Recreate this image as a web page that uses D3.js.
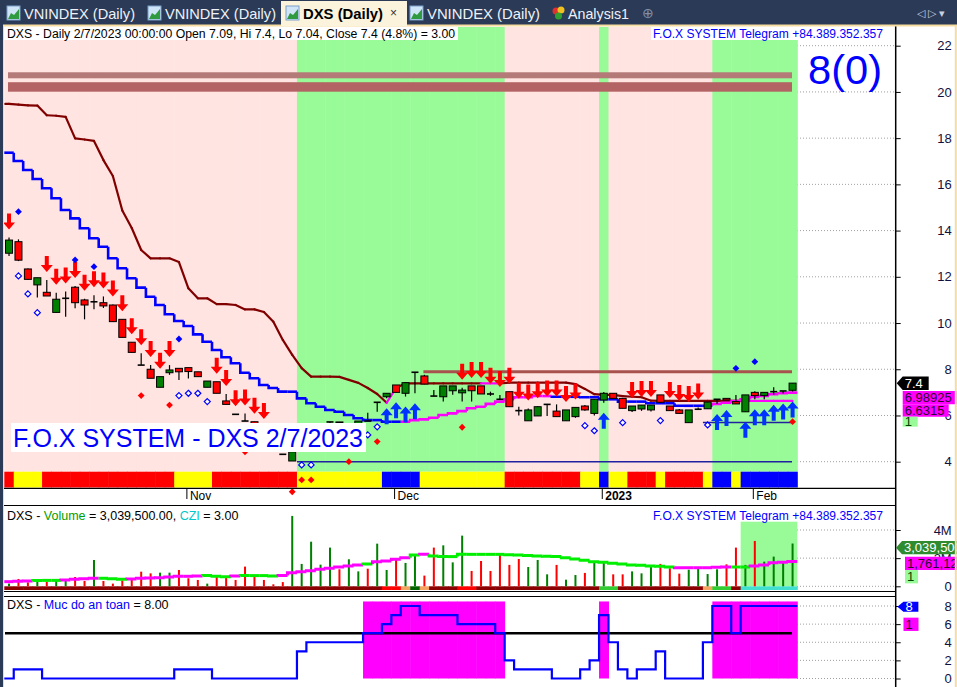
<!DOCTYPE html>
<html><head><meta charset="utf-8">
<script src="https://cdn.jsdelivr.net/npm/d3@7"></script>
<style>body{margin:0;background:#fff;overflow:hidden}svg{display:block;font-family:"Liberation Sans",Arial,sans-serif}</style>
</head><body><svg id="c" width="957" height="687"></svg>
<script>
// ---------------- DATA ----------------
const openP  = [13.02,13.52,12.34,11.65,11.33,10.46,11.07,11.55,11.0,10.92, 10.88,10.78,10.16,9.17,8.18,8.0,7.22,7.85,8.04,8.07, 7.89,7.22,7.46,6.63,6.05,5.76,5.73,5.45,4.9,4.32, 4.03,4.6,5.0,5.3,5.72,5.72,5.5,5.55,5.76,6.57, 6.81,7.32,6.96,7.87,7.71,6.84,6.81,7.07,6.98,7.28, 7.28,6.93,6.7,7.03,6.21,5.77,5.98,6.48,6.19,5.77, 5.95,6.41,6.09,6.67,6.96,6.74,6.21,6.28,6.24,6.89, 6.41,6.24,5.69,6.27,6.29,6.7,6.74,6.6,6.16,7.0, 6.86,7.03,7.06,7.09];
const highP  = [13.7,13.62,12.36,11.96,11.86,11.31,11.36,11.6,11.05,11.2, 11.15,10.8,10.16,9.17,8.69,8.18,7.68,8.18,8.04,8.07, 7.89,7.49,7.46,6.93,6.05,6.09,5.73,5.5,4.95,4.32, 4.43,4.74,5.07,5.4,5.72,5.72,5.62,5.76,6.12,6.57, 6.96,7.32,7.42,7.87,7.76,7.1,7.28,7.28,7.2,7.28, 7.28,7.03,6.89,7.03,6.38,6.3,6.4,6.48,6.48,6.24, 6.35,6.45,6.7,7.02,6.96,6.76,6.41,6.45,6.45,6.89, 6.41,6.28,6.24,6.35,6.58,6.7,6.74,6.89,6.89,7.05, 7.0,7.22,7.06,7.4];
const lowP   = [12.9,12.68,11.87,11.11,11.17,10.46,10.27,10.64,10.16,10.6, 10.65,10.06,9.38,8.73,8.18,7.61,7.22,7.76,7.54,7.6, 7.68,7.22,6.96,6.48,6.05,5.76,5.59,4.98,4.55,4.32, 4.03,4.55,4.85,5.2,5.5,5.66,5.35,5.5,5.76,6.16, 6.75,7.0,6.82,6.96,7.36,6.84,6.6,6.9,6.6,6.6, 6.93,6.85,6.7,6.38,6.0,5.77,5.98,5.98,5.95,5.77, 5.9,6.2,6.0,6.55,6.74,6.31,6.15,6.2,6.17,6.57, 6.21,6.09,5.69,6.25,6.29,6.5,6.67,6.5,6.16,6.7, 6.7,6.9,6.95,7.04];
const closeP = [13.59,12.72,11.89,11.96,11.17,11.03,11.07,10.88,10.78,10.92, 10.74,10.06,9.38,8.73,8.18,7.61,7.68,7.97,7.89,7.9, 7.68,7.49,6.96,6.48,6.05,5.76,5.59,5.0,4.6,4.32, 4.43,4.74,5.07,5.4,5.72,5.68,5.6,5.76,5.76,6.57, 6.96,7.0,7.42,7.87,7.36,6.84,7.28,7.28,7.1,7.07, 6.93,6.93,6.7,6.38,6.21,6.24,6.38,6.48,5.95,6.24, 6.35,6.24,6.7,6.96,6.74,6.31,6.41,6.45,6.45,6.57, 6.21,6.09,6.24,6.27,6.58,6.7,6.67,6.5,6.89,6.86, 7.0,7.03,7.06,7.4];
// volume in millions
const volumeM = [0.19,0.52,0.28,0.47,0.33,0.52,0.42,0.66,0.38,1.87, 0.38,0.19,0.42,0.45,1.04,0.92,0.97,0.97,1.16,0.57, 0.45,0.19,0.73,0.61,0.45,1.4,0.66,0.45,0.14,0.3, 5.0,1.59,3.17,1.54,2.75,1.21,1.92,1.06,1.25,3.03, 1.16,1.94,1.66,2.27,0.76,2.75,2.91,1.7,3.6,1.09, 1.8,1.09,2.27,1.52,1.94,1.37,1.87,0.85,1.52,0.47, 0.8,0.95,1.8,1.78,0.85,0.85,1.06,0.92,1.37,1.59, 1.28,0.9,1.18,1.35,0.87,1.21,1.56,2.75,1.52,3.22, 1.75,2.11,1.75,3.04];
const volumeMA = [0.33,0.35,0.38,0.42,0.42,0.42,0.45,0.5,0.54,0.57, 0.57,0.54,0.5,0.52,0.57,0.59,0.61,0.66,0.71,0.71, 0.73,0.76,0.71,0.68,0.73,0.76,0.76,0.76,0.73,0.76, 0.97,1.04,1.11,1.21,1.28,1.37,1.45,1.51,1.59,1.75, 1.8,1.92,2.03,2.23,2.27,2.15,2.11,2.11,2.27,2.27, 2.27,2.27,2.27,2.25,2.23,2.18,2.15,2.13,2.11,2.03, 1.94,1.85,1.75,1.7,1.63,1.59,1.51,1.49,1.45,1.42, 1.37,1.32,1.32,1.32,1.32,1.35,1.37,1.37,1.37,1.45, 1.51,1.67,1.70,1.76];
// runs: [state, number of bars]
const volumeMARuns = [["m",3],["g",3],["m",4],["g",3],["m",8],["g",3],["m",1],["g",4],["m",9],["g",1],["m",4],["g",1],["m",1],["g",26],["m",6],["g",2],["m",5]];
const volumeStripRuns = [["D",40],["R",2],["O",1],["G",1],["O",1],["D",3],["R",2],["D",13],["L",2],["D",9],["O",1],["L",2],["D",1],["C",6]];
// trend lines (price units)
const lineA = [19.48,19.45,19.42,19.41,18.99,18.97,18.92,17.99,17.94,17.88, 17.05,16.36,14.87,14.11,13.16,12.80,12.80,12.80,12.64,11.50, 11.07,11.07,10.82,10.82,10.78,10.59,10.59,10.48,10.06,9.27, 8.62,8.05,7.68,7.68,7.68,7.67,7.54,7.41,7.19,6.93, 6.55,7.19,7.39,7.39,7.39,7.39,7.39,7.39,7.39,7.39, 7.39,7.39,7.39,7.42,7.42,7.42,7.42,7.42,7.42,7.42, 7.36,7.15,6.92,6.89,6.89,6.84,6.81,6.79,6.64,6.63, 6.63,6.63,6.63,6.63,6.63,6.63,6.63,6.63,6.63,6.63, 6.63,6.63,6.63,6.6315];
const lineAMagenta = [[41,41],[51,52],[79,83]];
const lineB = [17.37,17.01,16.62,16.23,15.83,15.40,14.89,14.53,14.10,13.67, 13.30,12.80,12.37,11.94,11.53,11.14,10.78,10.38,10.09,9.87, 9.51,9.19,8.83,8.52,8.26,7.85,7.61,7.32,7.19,7.03, 7.03,6.74,6.53,6.38,6.24,6.16,6.02,5.88,5.80,5.80, 5.73,5.73,5.73,5.80,5.83,5.90,6.02,6.09,6.19,6.31, 6.38,6.50,6.60,6.70,6.79,6.79,6.84,6.84,6.81,6.81, 6.81,6.79,6.79,6.70,6.70,6.60,6.60,6.60,6.53,6.53, 6.53,6.42,6.42,6.42,6.42,6.50,6.55,6.62,6.70,6.80, 6.85,6.92,6.96,6.98925];
const lineBMagenta = [[42,57],[75,83]];
// background regimes (green ranges, others pink)
const greenRanges = [[31,52],[63,63],[75,83]];
const trendRuns = [["R",1],["Y",3],["R",14],["Y",4],["R",9],["Y",9],["B",4],["Y",9],["R",8],["Y",2],["B",1],["Y",2],["R",3],["Y",1],["R",4],["Y",1],["B",2],["Y",1],["B",6]];
// safety level (bottom pane)
const safety = [0,1,1,1,0,0,0,0,0,0, 0,0,0,0,0,0,0,0,1,1, 1,1,0,0,0,0,0,0,0,0, 0,3,4,4,4,4,4,4,5,5, 6,7,8,8,7,7,7,7,6,6, 6,6,5,2,1,1,1,1,0,0, 0,1,2,7,4,1,0,1,1,3, 0,0,0,0,4,8,8,5,8,8, 8,8,8,8];
const safetyThreshold = 5;
// signals
const sellBars = [0,4,5,6,7,8,9,10,11,12,13,14,15,16,17,22,23,24,25,26,27,48,49,50,51,52,53,54,55,56,57,58,59,60,66,67,68,70,71,72,73];
const buyBars  = [40,41,42,43,63,75,76,78,79,80,81,82,83];
const blueDiamondBars = [1,7,9,18,77,79];
const blueDiamondVals = [14.82,12.73,12.44,9.31,8.04,8.33];
const hollowBars = [1,2,3,18,19,20,21,31,32,38,39,61,62,65,69,74];
const hollowVals = [12.04,11.26,10.45,6.86,6.96,6.96,6.60,3.86,3.86,5.16,5.51,5.56,5.34,5.69,5.78,5.59];
const redDiamondBars = [14,17,25,30,31,32,36,39,48,83];
const redDiamondVals = [6.86,6.45,4.43,2.70,3.21,3.21,4.0,4.87,5.49,5.73];
// horizontal levels
const resistBands = [[20.59,20.85],[20.01,20.42]];
const resistLevel = 7.89, resistFrom = 44;
const supportLevels = [[4.0,31],[5.7,74]];
// axis / labels
const priceTicks = [4,6,8,10,12,14,16,18,20,22];
const volTicks = [0,2,4], volTickLabels = ["0","2M","4M"];
const safetyTicks = [0,2,4,6,8];
const monthBars = [19,41,63,79], monthLabels = ["Nov","Dec","2023","Feb"], monthBold=[false,false,true,false];
const tabs = ["VNINDEX (Daily)","VNINDEX (Daily)","DXS (Daily)","VNINDEX (Daily)","Analysis1"];
const headerText = "DXS - Daily 2/7/2023 00:00:00 Open 7.09, Hi 7.4, Lo 7.04, Close 7.4 (4.8%)  = 3.00";
const brandText = "F.O.X SYSTEM Telegram +84.389.352.357";
const bigText = "8(0)";
const watermark = "F.O.X SYSTEM - DXS 2/7/2023";

// ---------------- HELPERS ----------------
const N = closeP.length;
const expandRuns = runs => runs.flatMap(([s,n]) => Array(n).fill(s));
const inRanges = (ranges, i) => ranges.some(([a,b]) => i>=a && i<=b);
const trendBand = expandRuns(trendRuns);
const volumeStrip = expandRuns(volumeStripRuns);
const volumeMAColor = expandRuns(volumeMARuns);

// ---------------- DRAW ----------------
const svg = d3.select("#c");
const W = 957, H = 687;
const BLUE="#0000ff", MAG="#ff00ff", PINK="#ffe4e1", LGREEN="#98fb98";
const x = d3.scaleBand().domain(d3.range(N)).range([4.3, 797.3]);
const bw = x.bandwidth();
const cx = i => x(i) + bw/2;
const y = d3.scaleLinear().domain([4,22]).range([461.7,45.7]);
const yv = d3.scaleLinear().domain([0,4]).range([586.3,530]);
const ys = d3.scaleLinear().domain([0,8]).range([678.5,606]);
const AX = 895.7;

svg.append("rect").attr("width",W).attr("height",H).attr("fill","#fff");

// grid (only visible to the right of the data)
const gridG = svg.append("g").attr("stroke","#a0a0a0").attr("stroke-dasharray","1,2");
priceTicks.forEach(t=>gridG.append("line").attr("x1",797).attr("x2",AX).attr("y1",y(t)).attr("y2",y(t)));
volTicks.forEach(t=>gridG.append("line").attr("x1",797).attr("x2",AX).attr("y1",yv(t)).attr("y2",yv(t)));
safetyTicks.forEach(t=>gridG.append("line").attr("x1",797).attr("x2",AX).attr("y1",ys(t)).attr("y2",ys(t)));

// ---- main pane backgrounds
const mainTop = 27, bandTop = 471.7, bandBot = 487.5;
svg.append("g").selectAll("rect").data(d3.range(N)).join("rect")
  .attr("x",i=>x(i)).attr("width",bw+0.5).attr("y",mainTop).attr("height",bandTop-mainTop)
  .attr("fill",i=>inRanges(greenRanges,i)?LGREEN:PINK);
const bandCol = {R:"#ff0000",Y:"#ffff00",B:"#0000ff"};
svg.append("g").selectAll("rect").data(d3.range(N)).join("rect")
  .attr("x",i=>x(i)).attr("width",bw+0.5).attr("y",bandTop).attr("height",bandBot-bandTop)
  .attr("fill",i=>bandCol[trendBand[i]]);

// resistance bands
svg.append("rect").attr("x",8).attr("width",792-8).attr("y",y(resistBands[0][1])).attr("height",y(resistBands[0][0])-y(resistBands[0][1])).attr("fill","#b37a78");
svg.append("rect").attr("x",8).attr("width",792-8).attr("y",y(resistBands[1][1])).attr("height",y(resistBands[1][0])-y(resistBands[1][1])).attr("fill","#b36363");
// level lines
svg.append("line").attr("x1",cx(resistFrom)-1).attr("x2",792).attr("y1",y(resistLevel)).attr("y2",y(resistLevel)).attr("stroke","#a8524e").attr("stroke-width",3);
supportLevels.forEach(([v,from])=>svg.append("line").attr("x1",x(from)).attr("x2",792).attr("y1",y(v)).attr("y2",y(v)).attr("stroke","#2020a0").attr("stroke-width",1.5));

// line A (polyline through bar centres)
const gA = svg.append("g").attr("fill","none").attr("stroke-width",2.2).attr("stroke-linecap","round");
gA.append("line").attr("x1",x(0)+1).attr("y1",y(lineA[0])).attr("x2",cx(0)).attr("y2",y(lineA[0])).attr("stroke","#800000");
for(let i=1;i<N;i++){
  gA.append("line").attr("x1",cx(i-1)).attr("y1",y(lineA[i-1])).attr("x2",cx(i)).attr("y2",y(lineA[i]))
    .attr("stroke",inRanges(lineAMagenta,i)?MAG:"#800000");
}
// line B (step)
const gB = svg.append("g").attr("fill","none").attr("stroke-width",2.6);
for(let i=0;i<N;i++){
  const c = inRanges(lineBMagenta,i)?MAG:BLUE;
  const p = `M${x(i)},${i>0?y(lineB[i-1]):y(lineB[i])}V${y(lineB[i])}H${x(i)+bw}`;
  gB.append("path").attr("d",p).attr("stroke",c);
}

// candles
const cg = svg.append("g");
for(let i=0;i<N;i++){
  const o=openP[i],c=closeP[i],h=highP[i],l=lowP[i],xc=cx(i);
  cg.append("line").attr("x1",xc).attr("x2",xc).attr("y1",y(h)).attr("y2",y(l)).attr("stroke","#000").attr("stroke-width",1.2);
  if(o===c){
    cg.append("line").attr("x1",xc-3.5).attr("x2",xc+3.5).attr("y1",y(o)).attr("y2",y(o)).attr("stroke","#000").attr("stroke-width",1.6);
  } else {
    const top=y(Math.max(o,c)), bot=y(Math.min(o,c));
    cg.append("rect").attr("x",xc-3.5).attr("width",7).attr("y",top).attr("height",Math.max(1,bot-top))
      .attr("fill",c>o?"#008000":"#ff0000").attr("stroke","#000").attr("stroke-width",1);
  }
}

// signals
const downArrow = "M0,0L-6,-7L-2,-7L-2,-16L2,-16L2,-7L6,-7Z";
const upArrow   = "M0,0L-6,7L-2,7L-2,16L2,16L2,7L6,7Z";
svg.append("g").selectAll("path").data(sellBars).join("path")
  .attr("d",downArrow).attr("fill","#ff0000")
  .attr("transform",i=>`translate(${cx(i)},${y(highP[i])-8})`);
svg.append("g").selectAll("path").data(buyBars).join("path")
  .attr("d",upArrow).attr("fill","#0033ff")
  .attr("transform",i=>`translate(${cx(i)},${y(lowP[i])+10})`);
const dia = r => `M0,${-r}L${r},0L0,${r}L${-r},0Z`;
svg.append("g").selectAll("path").data(blueDiamondBars).join("path")
  .attr("d",dia(3.4)).attr("fill",BLUE)
  .attr("transform",(i,k)=>`translate(${cx(i)},${y(blueDiamondVals[k])})`);
svg.append("g").selectAll("path").data(hollowBars).join("path")
  .attr("d",dia(3)).attr("fill","#fff").attr("stroke",BLUE).attr("stroke-width",1.2)
  .attr("transform",(i,k)=>`translate(${cx(i)},${y(hollowVals[k])})`);
svg.append("g").selectAll("path").data(redDiamondBars).join("path")
  .attr("d",dia(3.4)).attr("fill","#ff0000")
  .attr("transform",(i,k)=>`translate(${cx(i)},${y(redDiamondVals[k])})`);

// header texts
svg.append("rect").attr("x",4).attr("y",27).attr("width",454).attr("height",13).attr("fill","#fff");
svg.append("text").attr("x",7).attr("y",37.5).attr("font-size",12.5).attr("textLength",448).attr("lengthAdjust","spacingAndGlyphs").attr("fill","#000").text(headerText);
svg.append("rect").attr("x",651).attr("y",27).attr("width",235).attr("height",13).attr("fill","#fff");
svg.append("text").attr("x",653).attr("y",37.5).attr("font-size",12.5).attr("textLength",230).attr("lengthAdjust","spacingAndGlyphs").attr("fill",BLUE).text(brandText);
svg.append("text").attr("x",808).attr("y",84).attr("font-size",40).attr("textLength",74).attr("lengthAdjust","spacingAndGlyphs").attr("fill",BLUE).text(bigText);
// watermark label
svg.append("rect").attr("x",11).attr("y",423).attr("width",355).attr("height",29).attr("fill","#fff");
svg.append("text").attr("x",13).attr("y",446.5).attr("font-size",25).attr("textLength",350).attr("lengthAdjust","spacingAndGlyphs").attr("fill",BLUE).text(watermark);

// main pane bottom line + x axis
svg.append("line").attr("x1",4).attr("x2",AX).attr("y1",488.3).attr("y2",488.3).attr("stroke","#000").attr("stroke-width",1.3);
monthBars.forEach((b,k)=>{
  const xt = cx(b)-1.5;
  svg.append("line").attr("x1",xt).attr("x2",xt).attr("y1",488).attr("y2",499).attr("stroke","#000");
  svg.append("text").attr("x",xt+3).attr("y",500).attr("font-size",12).attr("font-weight",monthBold[k]?"bold":"normal").attr("fill","#000").text(monthLabels[k]);
});

// ---- volume pane
svg.append("line").attr("x1",4).attr("x2",AX).attr("y1",505.5).attr("y2",505.5).attr("stroke","#000");
svg.append("rect").attr("x",x(78)).attr("width",x(83)+bw-x(78)).attr("y",521.7).attr("height",586.3-521.7).attr("fill",LGREEN);
const stripCol = {D:"#8b0000",R:"#ff0000",O:"#f4a460",G:"#006400",L:"#32cd32",C:"#40e0d0"};
svg.append("g").selectAll("rect").data(d3.range(N)).join("rect")
  .attr("x",i=>x(i)).attr("width",bw+0.5).attr("y",586.3).attr("height",3.7)
  .attr("fill",i=>stripCol[volumeStrip[i]]);
const upBar = i => closeP[i]>openP[i] || (closeP[i]===openP[i] && i>0 && closeP[i]>closeP[i-1]);
svg.append("g").selectAll("rect").data(d3.range(N)).join("rect")
  .attr("x",i=>cx(i)-1).attr("width",2).attr("y",i=>yv(volumeM[i])).attr("height",i=>yv(0)-yv(volumeM[i]))
  .attr("fill",i=>upBar(i)?"#008000":"#ff0000");
const gV = svg.append("g").attr("fill","none").attr("stroke-width",3);
for(let i=0;i<N;i++){
  gV.append("path").attr("d",`M${x(i)},${i>0?yv(volumeMA[i-1]):yv(volumeMA[i])}V${yv(volumeMA[i])}H${x(i)+bw}`)
    .attr("stroke",volumeMAColor[i]==="m"?MAG:"#00ee00");
}
const vh = svg.append("text").attr("x",7).attr("y",519.5).attr("font-size",12.5);
vh.append("tspan").attr("fill","#000").text("DXS - ");
vh.append("tspan").attr("fill","#00a000").text("Volume");
vh.append("tspan").attr("fill","#000").text(" = 3,039,500.00, ");
vh.append("tspan").attr("fill","#00c8c8").text("CZI");
vh.append("tspan").attr("fill","#000").text(" = 3.00");
svg.append("text").attr("x",653).attr("y",519.5).attr("font-size",12.5).attr("textLength",230).attr("lengthAdjust","spacingAndGlyphs").attr("fill",BLUE).text(brandText);
svg.append("line").attr("x1",4).attr("x2",AX).attr("y1",591.5).attr("y2",591.5).attr("stroke","#000");

// ---- safety pane
svg.append("line").attr("x1",4).attr("x2",AX).attr("y1",596.5).attr("y2",596.5).attr("stroke","#000");
svg.append("g").selectAll("rect").data(d3.range(N).filter(i=>safety[i]>=safetyThreshold)).join("rect")
  .attr("x",i=>x(i)).attr("width",bw+0.5).attr("y",ys(8.5)).attr("height",ys(0)-ys(8.5)).attr("fill",MAG);
svg.append("line").attr("x1",5).attr("x2",792).attr("y1",ys(safetyThreshold)).attr("y2",ys(safetyThreshold)).attr("stroke","#000").attr("stroke-width",2.5);
let sp = "";
for(let i=0;i<N;i++){
  sp += (i===0?`M${x(i)},${ys(safety[i])}`:`V${ys(safety[i])}`) + `H${x(i)+bw}`;
}
svg.append("path").attr("d",sp).attr("fill","none").attr("stroke",BLUE).attr("stroke-width",2.2);
const sh = svg.append("text").attr("x",7).attr("y",608.5).attr("font-size",12.5);
sh.append("tspan").attr("fill","#000").text("DXS - ");
sh.append("tspan").attr("fill",BLUE).text("Muc do an toan");
sh.append("tspan").attr("fill","#000").text(" = 8.00");

// ---- right axes
svg.append("line").attr("x1",AX).attr("x2",AX).attr("y1",25).attr("y2",H).attr("stroke","#000").attr("stroke-width",1.5);
function rightAxis(scale, ticks, labels){
  const g = svg.append("g").attr("transform",`translate(${AX},0)`)
    .call(d3.axisRight(scale).tickValues(ticks).tickSize(5).tickFormat((d,k)=>labels?labels[k]:d));
  g.select(".domain").remove();
  g.selectAll("text").attr("x",56).attr("text-anchor","end").attr("font-size",13).attr("font-family","Liberation Sans, Arial").attr("fill","#101040");
  g.selectAll("line").attr("stroke","#000");
}
rightAxis(y, priceTicks);
rightAxis(yv, volTicks, volTickLabels);
rightAxis(ys, safetyTicks);

function tag(x0,yc,w,h,fill,txt,tcol,arrow){
  const p = arrow ? `M${x0},${yc}L${x0+6},${yc-h/2}H${x0+w}V${yc+h/2}H${x0+6}Z` : `M${x0},${yc-h/2}H${x0+w}V${yc+h/2}H${x0}Z`;
  svg.append("path").attr("d",p).attr("fill",fill);
  svg.append("text").attr("x",x0+(arrow?8:2)).attr("y",yc+4.5).attr("font-size",13).attr("fill",tcol).text(txt);
}
tag(896.7,383.2,32,13.5,"#000","7.4","#fff",true);
tag(902.7,397.7,54,13.3,MAG,"6.98925","#300030",false);
tag(902.7,410.5,46,12.5,MAG,"6.6315","#300030",false);
tag(902.7,421.7,15,10,LGREEN,"1","#004000",false);
tag(896,547.7,62,13.3,"#2e8b2e","3,039,500","#fff",true);
tag(905,563.3,53,13.3,MAG,"1,761,120","#300030",false);
tag(905,576.7,13,13.3,LGREEN,"1","#004000",false);
tag(897.4,606.7,21,10,BLUE,"8","#fff",true);
tag(903.5,624.3,15,13.3,MAG,"1","#300030",false);

// ---- window chrome
svg.append("rect").attr("x",0).attr("y",0).attr("width",W).attr("height",25).attr("fill","#2b3a56");
svg.append("rect").attr("x",0).attr("y",25).attr("width",3).attr("height",H-25).attr("fill","#2b3a56");
svg.append("line").attr("x1",3).attr("x2",W).attr("y1",25.5).attr("y2",25.5).attr("stroke","#f7dca0").attr("stroke-width",2);
svg.append("line").attr("x1",955.8).attr("x2",955.8).attr("y1",25).attr("y2",H).attr("stroke","#f7dca0").attr("stroke-width",2);
svg.append("line").attr("x1",3.5).attr("x2",3.5).attr("y1",25).attr("y2",H).attr("stroke","#f7dca0").attr("stroke-width",1);
const tabX = [4,145,281,408,548], tabW=[138,133,126,136,90], textX=[24,165,303,427,568], textW=[111,111,80,113,61];
tabs.forEach((t,k)=>{
  const active = k===2;
  if(active) svg.append("rect").attr("x",tabX[k]).attr("y",1).attr("width",tabW[k]).attr("height",25).attr("fill","#fbf3dc");
  if(k<4){
    const ix = textX[k]-17;
    svg.append("rect").attr("x",ix).attr("y",6).attr("width",13).attr("height",14).attr("fill","#cfe4f7").attr("stroke","#7aa0c8");
    svg.append("path").attr("d",`M${ix+1},19L${ix+4},13L${ix+7},15L${ix+12},9V19Z`).attr("fill","#2f9a3f");
  } else {
    const ix = textX[k]-16;
    svg.append("circle").attr("cx",ix+4).attr("cy",11).attr("r",3.5).attr("fill","#e03030");
    svg.append("circle").attr("cx",ix+9).attr("cy",10).attr("r",3.5).attr("fill","#f0c020");
    svg.append("circle").attr("cx",ix+6.5).attr("cy",16).attr("r",3.5).attr("fill","#30a030");
  }
  svg.append("text").attr("x",textX[k]).attr("y",18.5).attr("font-size",14.5).attr("font-weight",active?"bold":"normal")
    .attr("textLength",textW[k]).attr("lengthAdjust","spacingAndGlyphs").attr("fill",active?"#000":"#eef2f8").text(t);
});
svg.append("text").attr("x",390).attr("y",17).attr("font-size",12).attr("fill","#333").text("×");
svg.append("text").attr("x",642).attr("y",18).attr("font-size",14).attr("fill","#8090a8").text("⊕");
svg.append("text").attr("x",917).attr("y",17).attr("font-size",11).attr("fill","#c8d0e0").text("◁ ▷ ▾");
</script></body></html>
